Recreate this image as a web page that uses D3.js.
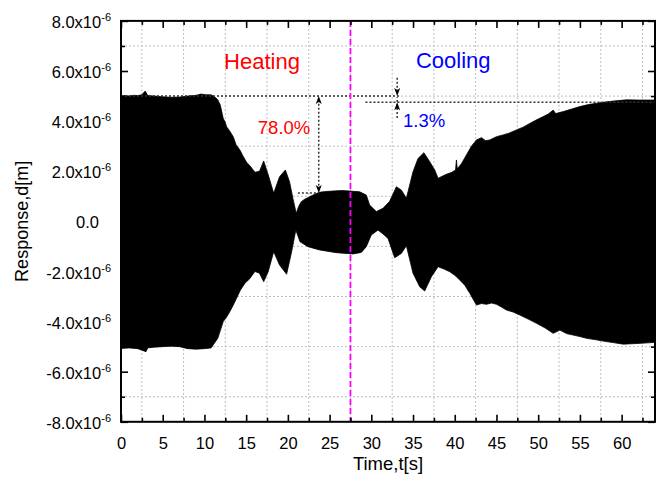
<!DOCTYPE html>
<html>
<head>
<meta charset="utf-8">
<script src="https://cdn.jsdelivr.net/npm/d3@7.9.0/dist/d3.min.js"></script>
<style>
  body { margin: 0; background: #fff; }
  svg { display: block; font-family: Arial, "Liberation Sans", sans-serif; }
  .grid line { stroke: #bdbdbd; stroke-width: 1; stroke-dasharray: 2,2; }
  .axis path { display: none; }
  .axis line { stroke: #000; stroke-width: 1.6; }
  .axis text { font-size: 16.5px; fill: #000; }
</style>
</head>
<body>
<div id="chart"></div>
<script>
// upper envelope of the response [time s, value x1e-6 m]
const upperT = [0, 0.5, 1, 1.5, 2, 2.5, 2.9, 3.2, 4, 5, 6, 7, 8, 9, 9.6, 10.2, 10.8, 11.3, 11.6, 11.9, 12.25, 12.5, 12.65, 13.0, 13.45, 13.8, 14.25, 14.6, 15.05, 15.5, 16.05, 16.6, 17.1, 17.65, 18.3, 19.0, 19.7, 20.2, 20.6, 21.0, 21.3, 21.6, 22.0, 22.6, 23.2, 23.8, 24.5, 25.4, 26.5, 27.4, 28.6, 29.4, 29.8, 30.6, 31.4, 32.2, 33.0, 33.6, 34.2, 35.0, 35.6, 36.3, 37.0, 37.6, 38.0, 38.5, 39.0, 39.6, 40.1, 40.2, 40.3, 40.8, 41.4, 42.0, 42.6, 43.2, 43.7, 44.2, 45.0, 45.8, 46.5, 47.4, 48.2, 49.0, 49.8, 50.6, 51.2, 51.8, 52.1, 53.0, 54.0, 55.0, 56.0, 57.0, 58.0, 59.0, 60.6, 62, 64];
const upperV = [5.0, 5.02, 5.0, 5.03, 5.02, 5.05, 5.2, 5.02, 5.0, 4.97, 4.95, 4.96, 5.0, 5.03, 5.08, 5.05, 5.05, 4.95, 4.85, 4.64, 4.11, 3.95, 3.78, 3.62, 3.38, 3.05, 2.85, 2.62, 2.36, 2.2, 1.96, 2.0, 2.41, 1.85, 1.12, 1.78, 2.05, 1.58, 0.92, 0.32, 0.6, 0.78, 0.88, 0.98, 1.08, 1.16, 1.19, 1.21, 1.23, 1.21, 1.18, 1.05, 0.65, 0.39, 0.52, 0.8, 1.38, 1.25, 0.92, 1.98, 2.51, 2.74, 2.38, 2.05, 1.72, 1.8, 1.88, 1.95, 2.05, 2.45, 2.1, 2.3, 2.65, 3.0, 3.25, 3.34, 3.22, 3.25, 3.38, 3.45, 3.52, 3.65, 3.76, 3.91, 4.05, 4.18, 4.28, 4.44, 4.3, 4.38, 4.48, 4.58, 4.66, 4.71, 4.76, 4.80, 4.85, 4.84, 4.84];

// lower envelope
const lowerT = [0, 1, 2, 3, 3.2, 4, 5, 6, 7, 8, 9, 10, 10.8, 11.05, 11.6, 12.25, 12.6, 13.05, 13.4, 13.85, 14.3, 14.85, 15.4, 16.05, 16.6, 17.1, 17.65, 18.3, 19.0, 19.85, 20.45, 20.95, 21.45, 22.4, 23.8, 25.8, 27.8, 28.8, 29.4, 30.0, 30.8, 31.4, 32.0, 32.8, 33.6, 34.2, 35.0, 35.8, 36.4, 37.2, 38.0, 38.7, 39.4, 40.0, 40.6, 41.2, 41.8, 42.6, 43.2, 43.8, 44.4, 45.0, 45.6, 46.2, 47.0, 47.8, 48.8, 49.8, 50.8, 51.8, 52.6, 53.4, 54.2, 55.0, 55.8, 56.8, 57.8, 59.0, 60.2, 62.2, 64];
const lowerV = [-5.07, -5.05, -5.08, -5.2, -5.05, -5.02, -5.0, -4.98, -5.0, -5.08, -5.1, -5.08, -5.05, -4.93, -4.67, -4.0, -3.85, -3.6, -3.38, -3.07, -2.75, -2.47, -2.3, -2.0, -2.07, -2.41, -2.0, -1.21, -1.74, -2.11, -1.21, -0.35, -0.81, -1.01, -1.14, -1.25, -1.30, -1.24, -1.01, -0.54, -0.35, -0.5, -0.68, -1.45, -1.28, -0.97, -2.07, -2.61, -2.78, -2.21, -1.81, -1.9, -2.01, -2.15, -2.34, -2.55, -2.87, -3.34, -3.28, -3.31, -3.26, -3.31, -3.42, -3.54, -3.62, -3.74, -3.9, -4.07, -4.25, -4.47, -4.34, -4.48, -4.54, -4.6, -4.67, -4.72, -4.78, -4.84, -4.90, -4.87, -4.83];

const xMajor = [0, 5, 10, 15, 20, 25, 30, 35, 40, 45, 50, 55, 60];
const xMinor = [2.5, 7.5, 12.5, 17.5, 22.5, 27.5, 32.5, 37.5, 42.5, 47.5, 52.5, 57.5, 62.5];
const yMajor = [-8, -6, -4, -2, 0, 2, 4, 6, 8];
const yMinor = [-7, -5, -3, -1, 1, 3, 5, 7];

const width = 663, height = 477;
const x = d3.scaleLinear().domain([0, 64]).range([121, 655]);
const y = d3.scaleLinear().domain([-8, 8]).range([421.8, 20.9]);

const svg = d3.select('#chart').append('svg')
  .attr('width', width)
  .attr('height', height);

svg.append('defs').append('clipPath').attr('id', 'plot')
  .append('rect')
  .attr('x', x(0)).attr('y', y(8))
  .attr('width', x(64) - x(0)).attr('height', y(-8) - y(8));

// grid at minor positions
const grid = svg.append('g').attr('class', 'grid');
grid.selectAll('.gx').data(xMinor).join('line')
  .attr('x1', d => x(d)).attr('x2', d => x(d))
  .attr('y1', y(8)).attr('y2', y(-8));
grid.selectAll('.gy').data(yMinor).join('line')
  .attr('x1', x(0)).attr('x2', x(64))
  .attr('y1', d => y(d)).attr('y2', d => y(d));

// signal envelope, filled
const pts = upperT.map((t, i) => [t, upperV[i]])
  .concat(lowerT.map((t, i) => [t, lowerV[i]]).reverse());
const line = d3.line().x(d => x(d[0])).y(d => y(d[1]));
svg.append('path')
  .attr('clip-path', 'url(#plot)')
  .attr('d', line(pts) + 'Z')
  .attr('fill', '#000')
  .attr('stroke', '#000')
  .attr('stroke-width', 0.8)
  .attr('stroke-linejoin', 'miter');

// annotations
const ann = svg.append('g');
const dotted = (x1, y1, x2, y2) => ann.append('line')
  .attr('x1', x(x1)).attr('y1', y(y1)).attr('x2', x(x2)).attr('y2', y(y2))
  .attr('stroke', '#333').attr('stroke-width', 1.5).attr('stroke-dasharray', '2,2');

dotted(0, 5.0, 33.3, 5.0);
dotted(29.3, 4.75, 64, 4.75);
dotted(21.2, 1.13, 23.7, 1.13);
dotted(23.7, 4.85, 23.7, 1.3);
dotted(33.1, 5.73, 33.1, 5.2);
dotted(33.1, 4.12, 33.1, 4.95);

const head = (t, v, dir) => {
  const px = x(t), py = y(v);
  ann.append('path')
    .attr('d', `M${px},${py} L${px - 3},${py - dir * 8} L${px},${py - dir * 6} L${px + 3},${py - dir * 8} Z`)
    .attr('fill', '#000');
};
head(23.7, 5.0, -1);
head(23.7, 1.13, 1);
head(33.1, 5.0, 1);
head(33.1, 4.75, -1);

svg.append('line')
  .attr('x1', x(27.5)).attr('x2', x(27.5))
  .attr('y1', y(8)).attr('y2', y(-8))
  .attr('stroke', '#ff00ff').attr('stroke-width', 1.8)
  .attr('stroke-dasharray', '6,3');

const label = (t, v, txt, color, size) => svg.append('text')
  .attr('x', x(t)).attr('y', y(v))
  .attr('fill', color).attr('font-size', size)
  .text(txt);
label(12.35, 6.07, 'Heating', '#ff0000', '22px');
label(35.35, 6.11, 'Cooling', '#0000ff', '22px');
label(16.4, 3.48, '78.0%', '#ff0000', '18.5px');
label(33.8, 3.76, '1.3%', '#0000ff', '18.5px');

// axes
const axes = svg.append('g').attr('class', 'axis');
axes.append('g').attr('transform', `translate(0,${y(-8)})`)
  .call(d3.axisBottom(x).tickValues(xMajor).tickSize(-7).tickPadding(15))
  .selectAll('text').attr('dy', '0.71em');
axes.append('g').attr('transform', `translate(0,${y(-8)})`)
  .call(d3.axisBottom(x).tickValues(xMinor.filter(d => d < 64)).tickSize(-4).tickFormat(''));
axes.append('g').attr('transform', `translate(0,${y(8)})`)
  .call(d3.axisTop(x).tickValues(xMajor).tickSize(-7).tickFormat(''));
axes.append('g').attr('transform', `translate(0,${y(8)})`)
  .call(d3.axisTop(x).tickValues(xMinor).tickSize(-4).tickFormat(''));

const yl = axes.append('g').attr('transform', `translate(${x(0)},0)`)
  .call(d3.axisLeft(y).tickValues(yMajor).tickSize(-7).tickPadding(10));
yl.selectAll('text').each(function (d) {
  const t = d3.select(this).text('').attr('dy', '0.4em');
  if (d === 0) {
    t.attr('x', 99 - x(0)).text('0.0');
  } else {
    t.attr('x', 111 - x(0));
    t.append('tspan').text(d.toFixed(1) + 'x10');
    t.append('tspan').attr('font-size', '11px').attr('dy', '-7').text('-6');
  }
});
axes.append('g').attr('transform', `translate(${x(0)},0)`)
  .call(d3.axisLeft(y).tickValues(yMinor).tickSize(-4).tickFormat(''));
axes.append('g').attr('transform', `translate(${x(64)},0)`)
  .call(d3.axisRight(y).tickValues(yMajor).tickSize(-7).tickFormat(''));
axes.append('g').attr('transform', `translate(${x(64)},0)`)
  .call(d3.axisRight(y).tickValues(yMinor).tickSize(-4).tickFormat(''));

svg.append('rect')
  .attr('x', x(0)).attr('y', y(8))
  .attr('width', x(64) - x(0)).attr('height', y(-8) - y(8))
  .attr('fill', 'none').attr('stroke', '#000').attr('stroke-width', 2);

svg.append('text')
  .attr('x', (x(0) + x(64)) / 2).attr('y', 470)
  .attr('text-anchor', 'middle').attr('font-size', '18.5px')
  .text('Time,t[s]');
svg.append('text')
  .attr('transform', `translate(28,${(y(8) + y(-8)) / 2}) rotate(-90)`)
  .attr('text-anchor', 'middle').attr('font-size', '18px')
  .text('Response,d[m]');
</script>
</body>
</html>
